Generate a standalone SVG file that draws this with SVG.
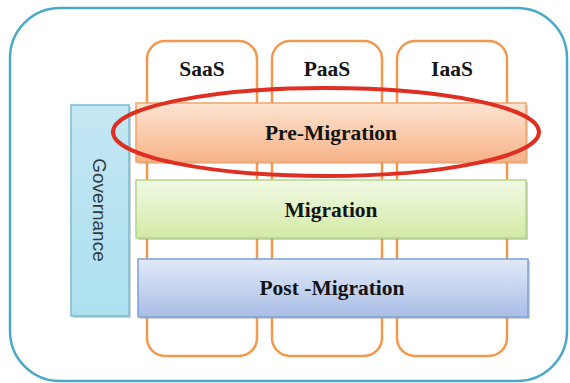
<svg xmlns="http://www.w3.org/2000/svg" width="570" height="383" viewBox="0 0 570 383">
<defs>
<linearGradient id="gPre" x1="0" y1="0" x2="0" y2="1"><stop offset="0" stop-color="#fde4d2"/><stop offset="1" stop-color="#f7b388"/></linearGradient>
<linearGradient id="gMig" x1="0" y1="0" x2="0" y2="1"><stop offset="0" stop-color="#f1f9e4"/><stop offset="1" stop-color="#d3eaa6"/></linearGradient>
<linearGradient id="gPost" x1="0" y1="0" x2="0" y2="1"><stop offset="0" stop-color="#e2eaf8"/><stop offset="1" stop-color="#a9bee6"/></linearGradient>
<linearGradient id="gGov" x1="0" y1="0" x2="0" y2="1"><stop offset="0" stop-color="#c4e7f3"/><stop offset="1" stop-color="#ade0ef"/></linearGradient>
</defs>
<style>
.col{fill:#ffffff;stroke:#f3994d;stroke-width:2.5}
.shadow{fill:#9a9a9a;opacity:0.45}
.lbl{font-family:"Liberation Serif","Times New Roman",serif;font-weight:bold;font-size:21.5px;fill:#141414;text-anchor:middle}
.gov{font-family:"Liberation Sans",Arial,sans-serif;font-size:19px;fill:#333a40;text-anchor:middle}
</style>
<rect x="0" y="0" width="570" height="383" fill="#ffffff"/>
<g id="frame">
<rect x="10" y="8" width="557" height="373" rx="50" ry="50" fill="#ffffff" stroke="#4aa9c6" stroke-width="2.5"/>
</g>
<g id="saas">
<rect class="col" x="147" y="41" width="110" height="315" rx="18" ry="18"/>
<text class="lbl" x="202" y="76">SaaS</text>
</g>
<g id="paas">
<rect class="col" x="272" y="41" width="110" height="315" rx="18" ry="18"/>
<text class="lbl" x="327" y="76">PaaS</text>
</g>
<g id="iaas">
<rect class="col" x="397" y="41" width="110" height="315" rx="18" ry="18"/>
<text class="lbl" x="452" y="76">IaaS</text>
</g>
<g id="governance">
<rect class="shadow" x="73" y="107" width="58" height="211"/>
<rect x="71" y="105" width="58" height="211" fill="url(#gGov)" stroke="#78bdd2" stroke-width="1.5"/>
<text class="gov" transform="translate(93,210) rotate(90)">Governance</text>
</g>
<g id="pre-migration">
<rect class="shadow" x="138" y="105" width="390" height="59"/>
<rect x="136" y="103" width="390" height="59" fill="url(#gPre)" stroke="#f5a466" stroke-width="1.5"/>
<text class="lbl" x="331" y="140">Pre-Migration</text>
</g>
<g id="migration">
<rect class="shadow" x="138" y="182" width="390" height="58"/>
<rect x="136" y="180" width="390" height="58" fill="url(#gMig)" stroke="#b3d68a" stroke-width="1.5"/>
<text class="lbl" x="331" y="217">Migration</text>
</g>
<g id="post-migration">
<rect class="shadow" x="140" y="261" width="390" height="58"/>
<rect x="138" y="259" width="390" height="58" fill="url(#gPost)" stroke="#7e9fd5" stroke-width="1.5"/>
<text class="lbl" x="332" y="295">Post -Migration</text>
</g>
<g id="highlight">
<ellipse cx="326" cy="132" rx="213" ry="44" fill="none" stroke="#df2f22" stroke-width="4"/>
</g>
</svg>
